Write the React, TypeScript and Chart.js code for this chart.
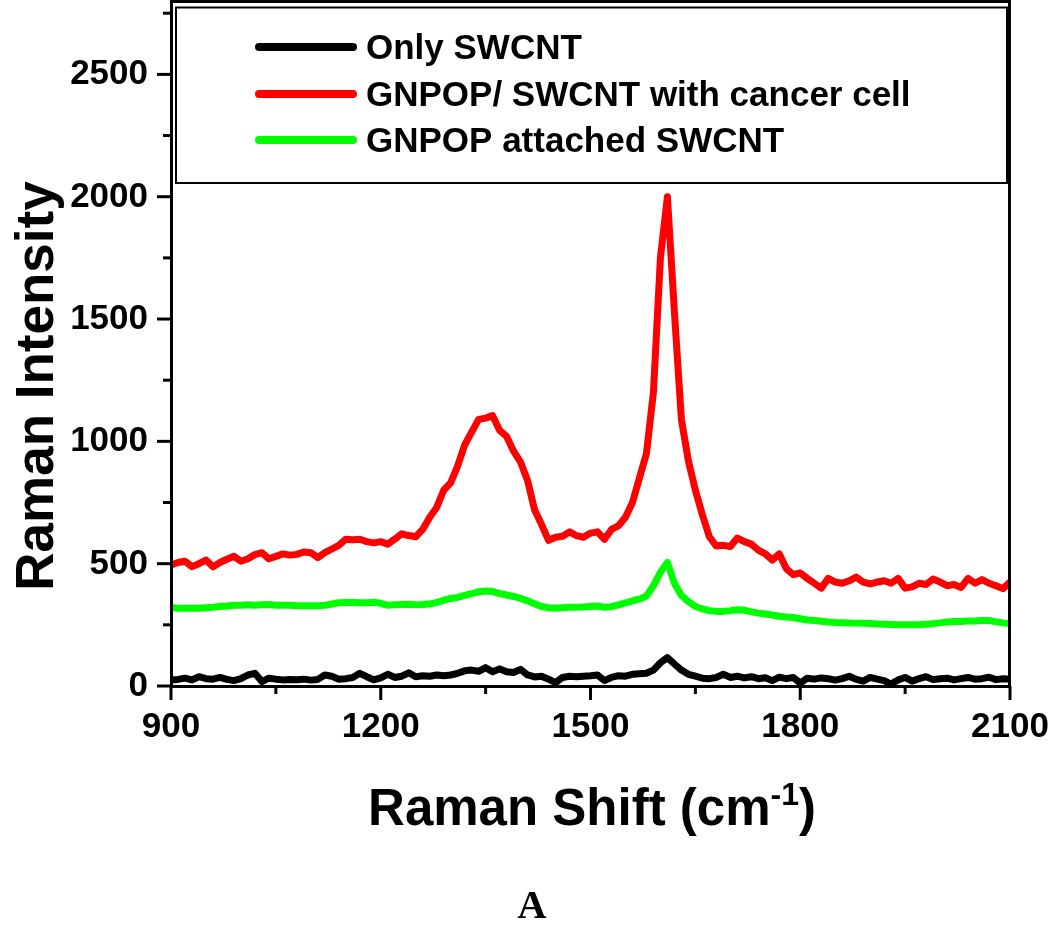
import React, { useEffect, useRef } from "react";
import { Chart, registerables } from "chart.js";

Chart.register(...registerables);

const shift: number[] = [
  900, 910, 920, 930, 940, 950, 960, 970, 980, 990,
  1000, 1010, 1020, 1030, 1040, 1050, 1060, 1070, 1080, 1090,
  1100, 1110, 1120, 1130, 1140, 1150, 1160, 1170, 1180, 1190,
  1200, 1210, 1220, 1230, 1240, 1250, 1260, 1270, 1280, 1290,
  1300, 1310, 1320, 1330, 1340, 1350, 1360, 1370, 1380, 1390,
  1400, 1410, 1420, 1430, 1440, 1450, 1460, 1470, 1480, 1490,
  1500, 1510, 1520, 1530, 1540, 1550, 1560, 1570, 1580, 1590,
  1600, 1610, 1620, 1630, 1640, 1650, 1660, 1670, 1680, 1690,
  1700, 1710, 1720, 1730, 1740, 1750, 1760, 1770, 1780, 1790,
  1800, 1810, 1820, 1830, 1840, 1850, 1860, 1870, 1880, 1890,
  1900, 1910, 1920, 1930, 1940, 1950, 1960, 1970, 1980, 1990,
  2000, 2010, 2020, 2030, 2040, 2050, 2060, 2070, 2080, 2090,
  2100,
];

const onlySwcnt: number[] = [
  25, 27, 32, 25, 38, 30, 28, 35, 27, 22,
  30, 45, 52, 18, 32, 28, 25, 27, 26, 28,
  24, 27, 45, 40, 28, 30, 35, 52, 38, 25,
  33, 48, 35, 40, 54, 38, 42, 40, 45, 42,
  45, 52, 62, 65, 60, 75, 58, 70, 58, 55,
  68, 45, 37, 40, 28, 14, 35, 40, 38, 40,
  42, 45, 22, 35, 42, 40, 48, 50, 52, 65,
  95, 116, 90, 65, 48, 40, 32, 30, 35, 48,
  35, 40, 33, 38, 30, 34, 22, 36, 30, 35,
  12, 32, 28, 33, 30, 24, 30, 40, 27, 20,
  35, 28, 22, 8, 25, 35, 20, 30, 38, 26,
  30, 32, 25, 30, 35, 28, 30, 36, 26, 30,
  28,
];

const withCancerCell: number[] = [
  495, 505, 510, 488, 500, 515, 487, 505, 518, 530,
  510, 520, 537, 545, 520, 530, 540, 535, 538, 548,
  545, 525, 545, 560, 575, 600, 598, 600, 590, 585,
  590, 580, 600, 622, 615, 610, 640, 690, 730, 800,
  830, 900, 985, 1038, 1090, 1095, 1105, 1045, 1020, 960,
  915, 840, 720, 660, 595, 608, 612, 630, 615, 608,
  625, 630, 600, 640, 655, 690, 750, 850, 950, 1200,
  1750, 2000, 1530, 1090, 920, 800, 700, 610, 572, 575,
  570, 605, 590, 580, 555, 540, 515, 540, 480, 455,
  462, 440, 420, 400, 440, 425, 420, 430, 445, 425,
  417, 425, 430, 420, 440, 400, 405, 420, 415, 437,
  425, 410, 415, 403, 440, 420, 435, 420, 410, 398,
  425,
];

const attachedSwcnt: number[] = [
  321, 318, 318, 318, 318, 320, 322, 325, 327, 330,
  330, 332, 330, 332, 333, 330, 330, 330, 328, 328,
  328, 328, 330, 335, 340, 341, 341, 340, 340, 342,
  338, 330, 332, 333, 334, 332, 333, 335, 342, 350,
  358, 362, 370, 378, 385, 388, 386, 378, 372, 366,
  358, 348, 336, 325, 320, 318, 320, 322, 322, 323,
  325, 327, 322, 324, 332, 340, 348, 355, 368, 410,
  465, 505, 420, 370, 345, 325, 315, 308, 305, 305,
  308, 312, 310, 303, 298, 294, 290, 285, 282, 280,
  275, 270, 268, 265, 262, 260, 259, 258, 257, 256,
  255, 253, 252, 251, 250, 250, 250, 250, 252, 255,
  258, 262, 264, 264, 266, 266, 268, 268, 262, 258,
  255,
];

const seriesNames: string[] = [
  "Only SWCNT",
  "GNPOP/ SWCNT with cancer cell",
  "GNPOP attached SWCNT",
];
const seriesColors: string[] = ["#000000", "#ff0000", "#00ff00"];

const xMajorTicks: number[] = [900, 1200, 1500, 1800, 2100];
const xMinorTicks: number[] = [1050, 1350, 1650, 1950];
const yMajorTicks: number[] = [0, 500, 1000, 1500, 2000, 2500];
const yMinorTicks: number[] = [250, 750, 1250, 1750, 2250, 2750];

const xTitle = "Raman Shift (cm";
const xTitleSup = "-1";
const xTitleEnd = ")";
const yTitle = "Raman Intensity";
const panelLabel = "A";

const SANS = '"Liberation Sans", Arial, sans-serif';
const SERIF = '"Liberation Serif", "Times New Roman", serif';

const decorPlugin = {
  id: "decor",
  afterDraw(chart: any) {
    const { ctx, chartArea } = chart;
    const xs = chart.scales.x;
    const ys = chart.scales.y;
    const { left, right, top, bottom } = chartArea;
    ctx.save();
    ctx.strokeStyle = "#000";
    ctx.fillStyle = "#000";
    ctx.lineCap = "butt";

    // frame
    ctx.lineWidth = 3;
    ctx.strokeRect(left + 0.5, top + 0.5, right - left - 1, bottom - top);

    // y ticks
    yMajorTicks.forEach((v) => {
      const py = ys.getPixelForValue(v);
      ctx.beginPath();
      ctx.moveTo(left - 14, py);
      ctx.lineTo(left, py);
      ctx.stroke();
    });
    yMinorTicks.forEach((v) => {
      const py = ys.getPixelForValue(v);
      ctx.beginPath();
      ctx.moveTo(left - 8, py);
      ctx.lineTo(left, py);
      ctx.stroke();
    });
    // x ticks
    xMajorTicks.forEach((v) => {
      const px = xs.getPixelForValue(v);
      ctx.beginPath();
      ctx.moveTo(px, bottom);
      ctx.lineTo(px, bottom + 14);
      ctx.stroke();
    });
    xMinorTicks.forEach((v) => {
      const px = xs.getPixelForValue(v);
      ctx.beginPath();
      ctx.moveTo(px, bottom);
      ctx.lineTo(px, bottom + 8);
      ctx.stroke();
    });

    // tick labels
    ctx.font = `bold 35px ${SANS}`;
    ctx.textBaseline = "alphabetic";
    ctx.textAlign = "right";
    yMajorTicks.forEach((v) => {
      const py = ys.getPixelForValue(v);
      ctx.fillText(String(v), left - 23, py + 10);
    });
    ctx.textAlign = "center";
    xMajorTicks.forEach((v) => {
      const px = xs.getPixelForValue(v);
      ctx.fillText(String(v), px, bottom + 51);
    });

    // x title
    const mainFont = `bold 51px ${SANS}`;
    const supFont = `bold 32px ${SANS}`;
    ctx.font = mainFont;
    const w1 = ctx.measureText(xTitle).width;
    const w3 = ctx.measureText(xTitleEnd).width;
    ctx.font = supFont;
    const w2 = ctx.measureText(xTitleSup).width;
    const total = w1 + w2 + w3;
    let sx = 592 - total / 2;
    const base = 825;
    ctx.textAlign = "left";
    ctx.font = mainFont;
    ctx.fillText(xTitle, sx, base);
    sx += w1;
    ctx.font = supFont;
    ctx.fillText(xTitleSup, sx, base - 20);
    sx += w2;
    ctx.font = mainFont;
    ctx.fillText(xTitleEnd, sx, base);

    // y title
    ctx.save();
    ctx.translate(53, 386);
    ctx.rotate(-Math.PI / 2);
    ctx.font = `bold 53px ${SANS}`;
    ctx.textAlign = "center";
    ctx.fillText(yTitle, 0, 0);
    ctx.restore();

    // panel label
    ctx.font = `bold 40px ${SERIF}`;
    ctx.textAlign = "center";
    ctx.fillText(panelLabel, 532, 918);

    // legend box
    ctx.lineWidth = 2;
    ctx.strokeRect(176, 7.5, 1007 - 176, 183 - 7.5);
    const rows = [47, 94, 140];
    chart.data.datasets.forEach((ds: any, i: number) => {
      const ry = rows[i];
      ctx.strokeStyle = ds.borderColor;
      ctx.lineWidth = 8;
      ctx.lineCap = "round";
      ctx.beginPath();
      ctx.moveTo(259, ry);
      ctx.lineTo(353, ry);
      ctx.stroke();
      ctx.fillStyle = "#000";
      ctx.font = `bold 35px ${SANS}`;
      ctx.textAlign = "left";
      ctx.fillText(ds.label, 366, ry + 12);
    });
    ctx.restore();
  },
};

export default function App() {
  const canvasRef = useRef<HTMLCanvasElement | null>(null);

  useEffect(() => {
    if (!canvasRef.current) return;
    const series = [onlySwcnt, withCancerCell, attachedSwcnt];
    const chart = new Chart(canvasRef.current, {
      type: "line",
      data: {
        datasets: series.map((vals, i) => ({
          label: seriesNames[i],
          data: shift.map((x, j) => ({ x, y: vals[j] })),
          borderColor: seriesColors[i],
          backgroundColor: seriesColors[i],
          borderWidth: 7,
          pointRadius: 0,
          tension: 0,
          borderJoinStyle: "round" as const,
          borderCapStyle: "round" as const,
          fill: false,
        })),
      },
      options: {
        responsive: false,
        animation: false,
        layout: { padding: { left: 171, top: 1, right: 40, bottom: 245 } },
        plugins: {
          legend: { display: false },
          tooltip: { enabled: false },
          title: { display: false },
        },
        scales: {
          x: { type: "linear", min: 900, max: 2100, display: false },
          y: { type: "linear", min: 0, max: 2800, display: false },
        },
      },
      plugins: [decorPlugin],
    });
    return () => chart.destroy();
  }, []);

  return (
    <div style={{ position: "absolute", left: 0, top: 0, width: 1050, height: 931, background: "#fff" }}>
      <canvas ref={canvasRef} width={1050} height={931} style={{ display: "block" }} />
    </div>
  );
}
